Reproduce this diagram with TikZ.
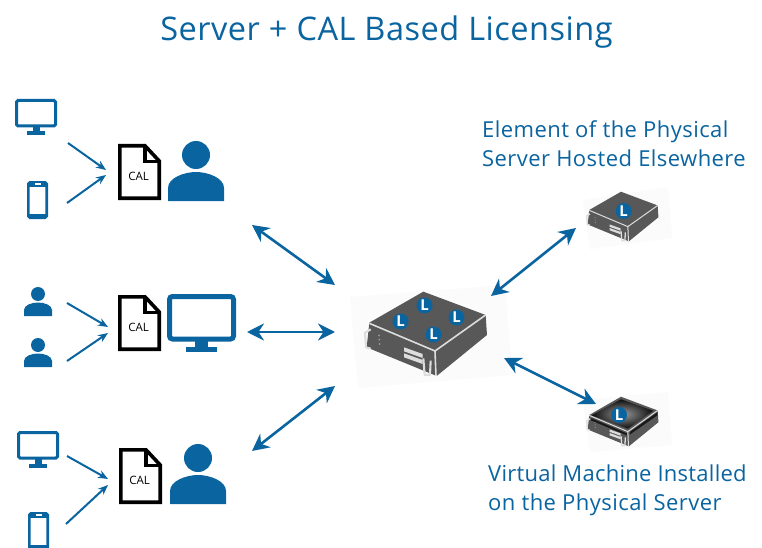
\documentclass[tikz,border=0pt]{standalone}
\usepackage{fontspec}
\setmainfont{Open Sans}
\newfontfamily\calfont{Open Sans}
\usetikzlibrary{arrows.meta}
\definecolor{brand}{HTML}{0A64A0}
\definecolor{srvgray}{HTML}{585858}
\definecolor{srvline}{HTML}{DDDDDD}
\tikzset{
  x=1pt,y=-1pt,
  thinarrow/.style={brand,line width=2pt,-{Stealth[length=10pt,width=8pt]}},
  bigarrow/.style={brand,line width=2.6pt,{Stealth[length=17pt,width=17pt]}-{Stealth[length=17pt,width=17pt]}},
  caption/.style={text=brand,font=\fontsize{22}{27}\selectfont\addfontfeature{LetterSpace=2},anchor=base west,inner sep=0pt},
  badge/.style={circle,fill=brand,minimum size=16pt,inner sep=0pt,text=white,font=\bfseries\fontsize{15}{15}\selectfont},
  calmark/.style={font=\calfont\fontsize{11.5}{12}\selectfont,inner sep=0pt},
  pics/monitor/.style={code={
    \draw[brand,line width=3pt,rounded corners=1.5pt] (1.5,1.5) rectangle (40.5,27);
    \fill[brand] (17.5,27) rectangle (24.5,33);
    \fill[brand] (12,32.5) rectangle (30,36.5);
  }},
  pics/bigmonitor/.style={code={
    \draw[brand,line width=5pt,rounded corners=3pt] (2.5,2.5) rectangle (66.5,45);
    \fill[brand] (28,45) rectangle (41,54);
    \fill[brand] (19,53) rectangle (50,58);
  }},
  pics/phone/.style={code={
    \draw[brand,line width=2.6pt,rounded corners=1.5pt] (1.3,1.3) rectangle (19.7,36.7);
    \fill[brand] (1,1) rectangle (20,5.5);
    \fill[brand] (1,32.5) rectangle (20,37);
    \fill[white] (7.5,2.3) rectangle (13.5,3.7);
  }},
  pics/person/.style={code={
    \fill[brand] (28,14) circle (14);
    \fill[brand] (0,60) -- (0,47) .. controls (0,37) and (16,31) .. (28,31)
      .. controls (40,31) and (56,37) .. (56,47) -- (56,60) -- cycle;
  }},
  pics/smallperson/.style={code={
    \fill[brand] (14,7) circle (7);
    \fill[brand] (0,29) -- (0,23) .. controls (0,18) and (8,15.5) .. (14,15.5)
      .. controls (20,15.5) and (28,18) .. (28,23) -- (28,29) -- cycle;
  }},
  pics/licdoc/.style={code={
    \draw[black,line width=3.6pt,miter limit=4,fill=white] (1.8,1.8) -- (27,1.8) -- (41.2,17) -- (41.2,54.2) -- (1.8,54.2) -- cycle;
    \draw[black,line width=3.6pt] (27,1.8) -- (27,17.5) -- (41.2,17.5);
    \fill[black] (25.2,1) rectangle (28.8,19);
    \node[calmark] at (20.7,32) {CAL};
  }},
  pics/serverbody/.style={code={
    % local coordinates: 1 unit = 1/3 px of the large server; #1 = line width
    \fill[srvgray] (88,158) -- (250,65) -- (437,135) -- (441,195) -- (290,318) -- (80,232) -- cycle;
    \draw[srvline,line width=#1,line join=round] (88,160) -- (285,243) -- (437,135);
    \draw[srvline,line width=#1] (285,243) -- (288,318);
    \draw[srvline,line width=1.3*#1,line join=round] (92,178) -- (75,188) -- (78,232) -- (92,236);
    \draw[srvline,line width=1.3*#1,line join=round] (250,265) -- (254,315) -- (270,315) -- (272,272);
    \fill[srvline] (192,232) -- (248,252) -- (248,264) -- (192,244) -- cycle;
    \fill[srvline] (192,250) -- (248,270) -- (248,282) -- (192,262) -- cycle;
    \fill[srvline!70!black] (117,196) circle (3) (118,209) circle (3) (119,222) circle (3);
  }},
}
\begin{document}
\begin{tikzpicture}
\useasboundingbox (0,0) rectangle (762,548);
\fill[white] (0,0) rectangle (762,548);

\node[anchor=base,text=brand,font=\fontsize{32.5}{38}\selectfont\addfontfeature{LetterSpace=1.6},inner sep=0pt] (title) at (386.5,41) {Server + CAL Based Licensing};

\pic at (15,99) {monitor};
\pic at (27,181) {phone};
\pic at (118,144) {licdoc};
\pic at (168,141) {person};
\coordinate (a1) at (68,143); \coordinate (a1e) at (106,170);
\coordinate (a2) at (67,203); \coordinate (a2e) at (106,175);
\draw[thinarrow] (a1) -- (a1e);
\draw[thinarrow] (a2) -- (a2e);

\pic at (24,287) {smallperson};
\pic at (24,338) {smallperson};
\pic at (118,295) {licdoc};
\pic at (167,294) {bigmonitor};
\coordinate (b1) at (67,303); \coordinate (b1e) at (108,327);
\coordinate (b2) at (67,361); \coordinate (b2e) at (108,333);
\draw[thinarrow] (b1) -- (b1e);
\draw[thinarrow] (b2) -- (b2e);

\pic at (17,431) {monitor};
\pic at (28,512) {phone};
\pic at (119,448) {licdoc};
\pic at (170,444) {person};
\coordinate (c1) at (67,456); \coordinate (c1e) at (108,479);
\coordinate (c2) at (66,524); \coordinate (c2e) at (108,485);
\draw[thinarrow] (c1) -- (c1e);
\draw[thinarrow] (c2) -- (c2e);

\fill[black!1.5] (350,297) -- (505,285) -- (512,375) -- (358,388) -- cycle;
\begin{scope}[shift={(340,270)},x=0.3333pt,y=-0.3333pt]
  \pic {serverbody=1.6pt};
\end{scope}
\node[badge] (l1) at (424.5,305.5) {L};
\node[badge] (l2) at (400.5,321.5) {L};
\node[badge] (l3) at (456.5,317.5) {L};
\node[badge] (l4) at (433.5,334.5) {L};

\fill[black!1.5] (583,200) -- (668,187) -- (672,238) -- (590,249) -- cycle;
\begin{scope}[shift={(572,179)},x=0.196pt,y=-0.196pt]
  \pic {serverbody=1pt};
\end{scope}
\node[badge] (l5) at (623.7,211) {L};

\fill[black!1.5] (583,400) -- (668,392) -- (672,445) -- (590,452) -- cycle;
\begin{scope}[shift={(572,384)},x=0.196pt,y=-0.196pt]
  \pic {serverbody=1pt};
  \shade[inner color=black!40,outer color=black!95] (100,160) -- (250,78) -- (415,137) -- (285,228) -- cycle;
  \fill[black!90] (100,175) -- (280,252) -- (280,262) -- (95,185) -- cycle;
  \fill[black!90] (295,245) -- (435,145) -- (435,160) -- (295,258) -- cycle;
\end{scope}
\node[badge] (l6) at (619,415) {L};

\coordinate (p1) at (252,225); \coordinate (p1e) at (335,285);
\coordinate (p2) at (247,332); \coordinate (p2e) at (335,332);
\coordinate (p3) at (252,451); \coordinate (p3e) at (335,386);
\coordinate (p4) at (491,296); \coordinate (p4e) at (576,228);
\coordinate (p5) at (504,358); \coordinate (p5e) at (596,404);
\draw[bigarrow] (p1) -- (p1e);
\draw[bigarrow] (p2) -- (p2e);
\draw[bigarrow] (p3) -- (p3e);
\draw[bigarrow] (p4) -- (p4e);
\draw[bigarrow] (p5) -- (p5e);

\node[caption] (t1) at (482,138) {Element of the Physical};
\node[caption] (t2) at (482,166.5) {Server Hosted Elsewhere};
\node[caption,font=\fontsize{22}{27}\selectfont\addfontfeature{LetterSpace=1.2}] (t3) at (488,481) {Virtual Machine Installed};
\node[caption] (t4) at (488,510) {on the Physical Server};
\end{tikzpicture}
\end{document}
